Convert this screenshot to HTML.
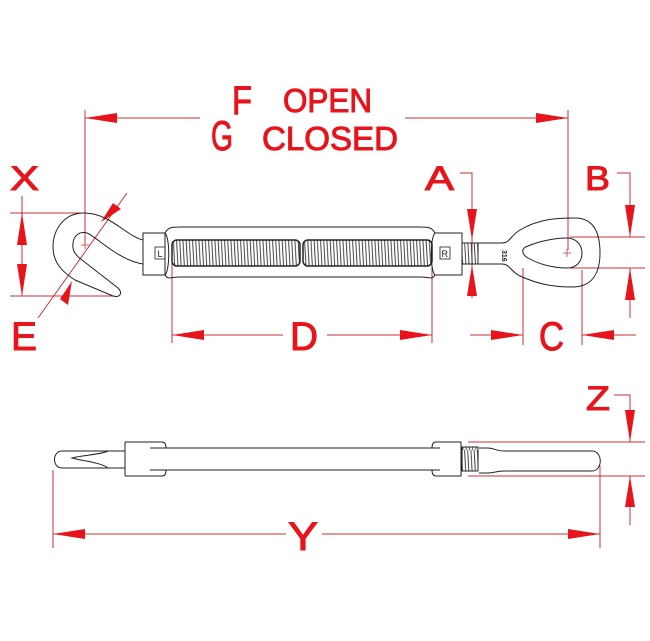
<!DOCTYPE html>
<html><head><meta charset="utf-8"><style>
html,body{margin:0;padding:0;background:#fff;}
svg{display:block}
text{font-family:"Liberation Sans",sans-serif;fill:#e8141b;}
.lb{stroke:#e8141b;stroke-width:1;}
</style></head><body>
<svg width="650" height="641" viewBox="0 0 650 641" xmlns="http://www.w3.org/2000/svg">
<defs>
<pattern id="thr" x="0" y="0" width="3.2" height="30" patternUnits="userSpaceOnUse">
<path d="M0.5,0 L2.2,30" stroke="#333" stroke-width="0.9"/>
</pattern>
</defs>
<g fill="none" stroke="#c8323a" stroke-width="1">
<line x1="85" y1="110" x2="85" y2="243"/>
<line x1="568" y1="110" x2="568" y2="250"/>
<line x1="85" y1="118" x2="200" y2="118"/>
<line x1="405" y1="118" x2="568" y2="118"/>
<line x1="10" y1="213" x2="80" y2="213"/>
<line x1="10" y1="296" x2="115" y2="296"/>
<line x1="22" y1="196" x2="22" y2="296"/>
<line x1="38" y1="318" x2="127" y2="193"/>
<polyline points="460,173 472,173 472,298"/>
<polyline points="617,173 630,173 630,237"/>
<line x1="570" y1="237" x2="645" y2="237"/>
<line x1="570" y1="268" x2="645" y2="268"/>
<line x1="630" y1="268" x2="630" y2="318"/>
<line x1="523" y1="268" x2="523" y2="345"/>
<line x1="582" y1="270" x2="582" y2="345"/>
<line x1="470" y1="335" x2="523" y2="335"/>
<line x1="582" y1="335" x2="636" y2="335"/>
<line x1="172" y1="262" x2="172" y2="343"/>
<line x1="432" y1="266" x2="432" y2="343"/>
<line x1="172" y1="335" x2="283" y2="335"/>
<line x1="327" y1="335" x2="432" y2="335"/>
<polyline points="614,395 630,395 630,442"/>
<line x1="468" y1="442" x2="645" y2="442"/>
<line x1="468" y1="476" x2="645" y2="476"/>
<line x1="630" y1="476" x2="630" y2="525"/>
<line x1="53" y1="470" x2="53" y2="548"/>
<line x1="600" y1="466" x2="600" y2="548"/>
<line x1="53" y1="534" x2="286" y2="534"/>
<line x1="322" y1="534" x2="600" y2="534"/>
</g>
<g fill="#e8141b">
<polygon points="85,118 117,113 117,123"/>
<polygon points="568,118 536,113 536,123"/>
<polygon points="22,213 17,245 27,245"/>
<polygon points="22,296 17,264 27,264"/>
<polygon points="101,222 113,203 121,209"/>
<polygon points="72,281 60,299 68,305"/>
<polygon points="472,240 467,209 477,209"/>
<polygon points="472,265 467,296 477,296"/>
<polygon points="630,237 625,205 635,205"/>
<polygon points="630,268 625,300 635,300"/>
<polygon points="523,335 491,330 491,340"/>
<polygon points="582,335 614,330 614,340"/>
<polygon points="172,335 204,330 204,340"/>
<polygon points="432,335 400,330 400,340"/>
<polygon points="630,442 625,410 635,410"/>
<polygon points="630,476 625,507 635,507"/>
<polygon points="53,534 85,529 85,539"/>
<polygon points="600,534 568,529 568,539"/>
</g>
<text class="lb" x="232" y="114" font-size="40" textLength="20" lengthAdjust="spacingAndGlyphs">F</text>
<text class="lb" x="283" y="112" font-size="33" textLength="89" lengthAdjust="spacingAndGlyphs">OPEN</text>
<text class="lb" x="211" y="150" font-size="42" textLength="22" lengthAdjust="spacingAndGlyphs">G</text>
<text class="lb" x="262" y="150" font-size="33" textLength="136" lengthAdjust="spacingAndGlyphs">CLOSED</text>
<text class="lb" x="10" y="190" font-size="34" textLength="29" lengthAdjust="spacingAndGlyphs">X</text>
<text class="lb" x="11" y="350" font-size="40" textLength="26" lengthAdjust="spacingAndGlyphs">E</text>
<text class="lb" x="425" y="190" font-size="34" textLength="29" lengthAdjust="spacingAndGlyphs">A</text>
<text class="lb" x="585" y="190" font-size="34" textLength="25" lengthAdjust="spacingAndGlyphs">B</text>
<text class="lb" x="539" y="350" font-size="40" textLength="25" lengthAdjust="spacingAndGlyphs">C</text>
<text class="lb" x="290" y="350" font-size="40" textLength="28" lengthAdjust="spacingAndGlyphs">D</text>
<text class="lb" x="586" y="410" font-size="34" textLength="24" lengthAdjust="spacingAndGlyphs">Z</text>
<text class="lb" x="288" y="550" font-size="40" textLength="30" lengthAdjust="spacingAndGlyphs">Y</text>

<g fill="none" stroke="#222" stroke-width="1">
<path d="M143,240 C126,236 110,213 84,213 C62,213 53,232 53,247 C53,262 62,272 75,280 L113,296 C120,298 123,293 118,288 L82,260 C75,255 72,250 73,243 C74,235 80,231 87,233 C97,237 118,260 143,264"/>
<path d="M143,233 L165,233 L165,275 L143,275 Z"/>
<path d="M165,233 C168,228 170,227 180,227 L420,227 C430,227 432,228 435,233 M165,275 C168,280 170,277 180,277 L420,277 C430,277 432,280 435,275"/>
<path d="M165,233 C170,238 170,270 165,275 M435,233 C430,238 430,270 435,275"/>
<rect x="172" y="240" width="128" height="26" rx="5" fill="url(#thr)" stroke="#222" stroke-width="1.5"/>
<rect x="303" y="240" width="129" height="26" rx="5" fill="url(#thr)" stroke="#222" stroke-width="1.5"/>
<rect x="155" y="247" width="10" height="12" stroke-width="0.8"/>
<rect x="440" y="247" width="10" height="12" stroke-width="0.8"/>
<path d="M435,233 L462,233 L462,275 L435,275"/>
<rect x="462" y="243" width="16" height="21" fill="url(#thr)"/>
<path d="M478,243 L502,243 C510,243 510,236 520,230 C540,218 560,218 575,218 C592,218 600,230 600,253 C600,276 590,287 572,287 C555,287 540,285 520,276 C510,271 510,264 502,264 L478,264"/>
<path d="M567,238 C576,238 582,245 582,253 C582,262 576,268 567,268 C555,268 540,265 528,258 C521,254 521,248 528,246 C540,241 555,238 567,238 Z"/>
</g>
<text x="502" y="258" font-size="7" style="fill:#222" transform="rotate(90 506 254)" font-weight="bold">316</text>
<text x="157.5" y="257" font-size="9" style="fill:#222">L</text>
<text x="441.5" y="257" font-size="9" style="fill:#222">R</text>
<g stroke="#c8323a" stroke-width="0.8" fill="none">
<path d="M85,241 L85,249 M81,245 L89,245 M567,249 L567,257 M563,253 L571,253"/>
</g>

<g fill="none" stroke="#222" stroke-width="1">
<path d="M125,451 L62,451 C52,451 52,468 62,468 L125,468"/>
<path d="M108,451 C100,455 82,455 72,458 C82,461 100,462 108,468"/>
<path d="M125,442 L162,442 C165,442 166,445 166,448 M125,476 L162,476 C165,476 166,473 166,470 M125,442 L125,476"/>
<path d="M150,448 L440,448 M150,470 L440,470"/>
<path d="M432,448 C432,445 433,442 436,442 L461,442 L461,476 L436,476 C433,476 432,473 432,470"/>
<rect x="462" y="447" width="16" height="24" fill="url(#thr)"/>
<path d="M479,448 L488,448 C495,448 495,451 505,451 L592,451 C603,451 603,471 592,471 L505,471 C495,471 495,473 488,473 L479,473"/>
</g>
</svg>
</body></html>
